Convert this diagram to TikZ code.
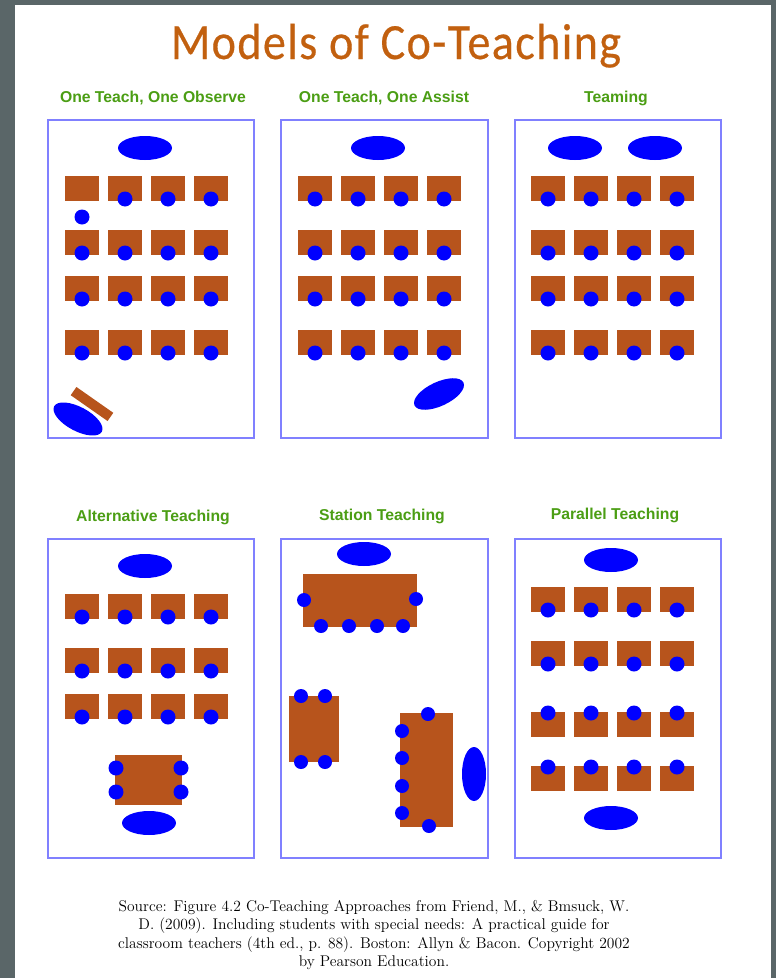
\documentclass[tikz,border=0pt]{standalone}
\usepackage{fontspec}
\setmainfont{Latin Modern Roman}
\newfontfamily\titlefont[LetterSpace=3,FakeBold=0.4]{Carlito}
\newfontfamily\labelfont{Liberation Sans}
\definecolor{pagegray}{HTML}{5A6668}
\definecolor{deskbrown}{HTML}{B7541C}
\definecolor{boxblue}{HTML}{8080FF}
\definecolor{titleorange}{HTML}{C2600F}
\definecolor{labelgreen}{HTML}{4B9E14}
\tikzset{
  room/.style={draw=boxblue,line width=1.5pt,fill=white},
  desk/.style={fill=deskbrown},
  pupil/.style={fill=blue},
  lead/.style={fill=blue},
  heading/.style={font=\labelfont\bfseries\fontsize{11.8}{13}\selectfont,text=labelgreen,inner sep=0pt},
}
\newcommand{\deskrow}[4]{% x offset, desk top, circle y, first-desk flag
  \foreach \dx in {0,43,86,129} {
    \fill[desk] ({#1+\dx},#2) rectangle ++(34,25);
    \ifnum#4=1 \ifnum\dx=0 \else \fill[pupil] ({#1+\dx+17},#3) circle[radius=7.5]; \fi
    \else \fill[pupil] ({#1+\dx+17},#3) circle[radius=7.5]; \fi
  }}
\begin{document}
\begin{tikzpicture}[x=0.75pt,y=-0.75pt]
\useasboundingbox (0,0) rectangle (776,978);
\fill[pagegray] (0,0) rectangle (776,978);
\fill[white] (15,5) rectangle (771,978);
\node[font=\titlefont\fontsize{38}{40}\selectfont,text=titleorange,inner sep=0pt,anchor=base] (title) at (396,59) {\scalebox{0.91}[1]{Models of Co-Teaching}};
\node[heading] (h1) at (153,98) {One Teach, One Observe};
\node[heading] (h2) at (384,98) {One Teach, One Assist};
\node[heading] (h3) at (616,98) {Teaming};
\node[heading] (h4) at (153,517) {Alternative Teaching};
\node[heading] (h5) at (382,516) {Station Teaching};
\node[heading] (h6) at (615,515) {Parallel Teaching};
% rooms
\draw[room] (48,120) rectangle (254,438);
\draw[room] (281,120) rectangle (488,438);
\draw[room] (515,120) rectangle (721,438);
\draw[room] (48,539) rectangle (254,858);
\draw[room] (281,539) rectangle (488,858);
\draw[room] (515,539) rectangle (721,858);
% panel 1
\fill[lead] (145,148) ellipse[x radius=27,y radius=12];
\deskrow{65}{176}{199}{1}
\fill[pupil] (82,217) circle[radius=7.5];
\deskrow{65}{230}{253}{0}
\deskrow{65}{276}{299}{0}
\deskrow{65}{330}{353}{0}
\fill[desk,rotate around={-35:(92,404)}] (69.5,399) rectangle (114.5,409);
\fill[lead,rotate around={-28:(78,419)}] (78,419) ellipse[x radius=27,y radius=12];
% panel 2
\fill[lead] (378,148) ellipse[x radius=27,y radius=12];
\deskrow{298}{176}{199}{0}
\deskrow{298}{230}{253}{0}
\deskrow{298}{276}{299}{0}
\deskrow{298}{330}{353}{0}
\fill[lead,rotate around={25:(439,394)}] (439,394) ellipse[x radius=27,y radius=12];
% panel 3
\fill[lead] (575,148) ellipse[x radius=27,y radius=12];
\fill[lead] (655,148) ellipse[x radius=27,y radius=12];
\deskrow{531}{176}{199}{0}
\deskrow{531}{230}{253}{0}
\deskrow{531}{276}{299}{0}
\deskrow{531}{330}{353}{0}
% panel 4
\fill[lead] (145,566) ellipse[x radius=27,y radius=12];
\deskrow{65}{594}{617}{0}
\deskrow{65}{648}{671}{0}
\deskrow{65}{694}{717}{0}
\fill[desk] (115,755) rectangle (182,805);
\foreach \px/\py in {116/768,181/768,116/792,181/792} \fill[pupil] (\px,\py) circle[radius=7.5];
\fill[lead] (149,823) ellipse[x radius=27,y radius=12];
% panel 5
\fill[lead] (364,554) ellipse[x radius=27,y radius=12];
\fill[desk] (303,574) rectangle (417,627);
\foreach \px/\py in {304/600,416/599,321/626,349/626,377/626,403/626} \fill[pupil] (\px,\py) circle[radius=7];
\fill[desk] (289,696) rectangle (339,762);
\foreach \px/\py in {301/696,325/696,301/762,325/762} \fill[pupil] (\px,\py) circle[radius=7];
\fill[desk] (400,713) rectangle (453,827);
\foreach \px/\py in {428/714,429/826,402/731,402/758,402/786,402/813} \fill[pupil] (\px,\py) circle[radius=7];
\fill[lead] (474,774) ellipse[x radius=12,y radius=27];
% panel 6
\fill[lead] (611,560) ellipse[x radius=27,y radius=12];
\deskrow{531}{587}{610}{0}
\deskrow{531}{641}{664}{0}
\deskrow{531}{712}{713}{0}
\deskrow{531}{766}{767}{0}
\fill[lead] (611,818) ellipse[x radius=27,y radius=12];
% source
\node[font=\fontsize{11.65}{13.6}\selectfont,align=center,inner sep=0pt,text=black] (source) at (374,935) {Source: Figure 4.2 Co-Teaching Approaches from Friend, M., \& Bmsuck, W.\\D. (2009). Including students with special needs: A practical guide for\\classroom teachers (4th ed., p. 88). Boston: Allyn \& Bacon. Copyright 2002\\by Pearson Education.};
\end{tikzpicture}
\end{document}
